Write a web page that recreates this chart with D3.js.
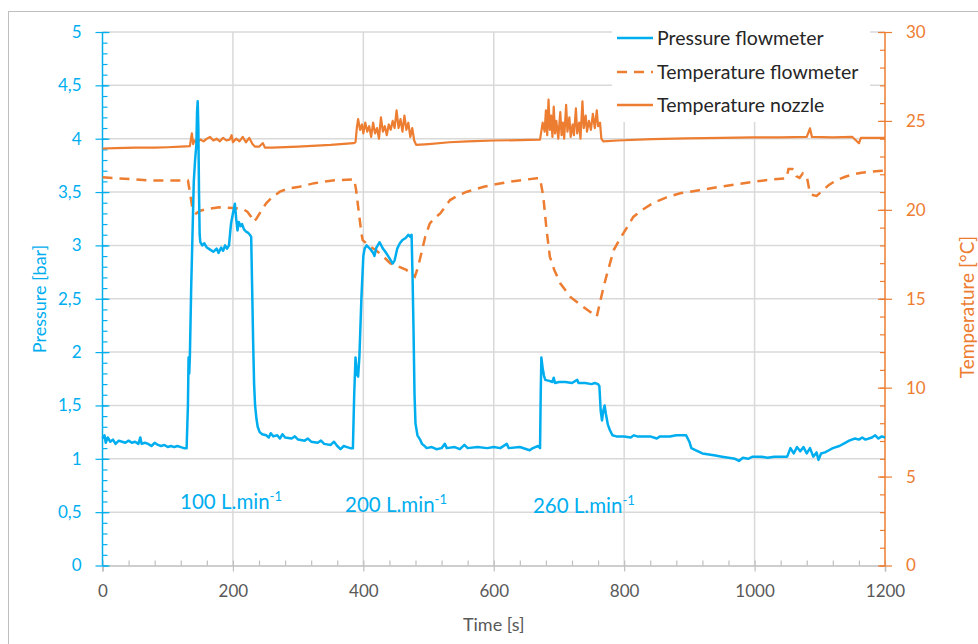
<!DOCTYPE html>
<html><head><meta charset="utf-8">
<script src="https://cdn.jsdelivr.net/npm/d3@7"></script>
<style>body{margin:0;background:#fff}svg{display:block;font-family:Lato,"Open Sans",sans-serif}</style>
</head><body><svg id="c" width="978" height="644"></svg>
<script>
const xTicks=[0,200,400,600,800,1000,1200];
const pTicks=[0,0.5,1,1.5,2,2.5,3,3.5,4,4.5,5];
const tTicks=[0,5,10,15,20,25,30];
const seriesNames=["Pressure flowmeter","Temperature flowmeter","Temperature nozzle"];
const flowLabels=[{t:119,txt:"100 L.min"},{t:372,txt:"200 L.min"},{t:660,txt:"260 L.min"}];

const pressure=[[0,1.19],[3,1.22],[5,1.15],[8,1.2],[12,1.16],[16,1.18],[20,1.14],[25,1.17],[30,1.16],[35,1.15],[40,1.17],[45,1.15],[50,1.16],[55,1.14],[58,1.2],[60,1.14],[65,1.15],[70,1.14],[75,1.12],[80,1.15],[85,1.13],[90,1.12],[95,1.13],[100,1.11],[105,1.12],[110,1.11],[115,1.12],[120,1.11],[125,1.1],[129,1.1],
[131,1.5],[132,1.95],[133,1.8],[134,1.96],[136,2.6],[138,3.1],[140,3.6],[142,3.8],[144,3.95],[145,4.25],[146,4.35],[147,4.1],[148,3.5],[149,3.1],[150,3.03],[153,3.0],[156,3.02],[160,2.98],[165,2.96],[170,2.94],[175,2.97],[178,2.93],[182,2.98],[185,2.95],[188,3.0],[191,2.97],[194,3.0],[197,3.2],[200,3.3],[203,3.39],[205,3.25],[207,3.14],[209,3.22],[212,3.18],[214,3.2],[217,3.15],[220,3.13],[223,3.12],[226,3.1],[228,3.08],[229.5,2.6],[231,2.1],[232.5,1.7],[234,1.5],[236,1.38],[238,1.3],[241,1.25],[245,1.23],[251,1.22],[255,1.2],[258,1.24],[262,1.21],[268,1.22],[272,1.19],[276,1.23],[280,1.2],[290,1.19],[295,1.21],[300,1.18],[310,1.17],[315,1.19],[320,1.16],[330,1.15],[335,1.17],[340,1.14],[350,1.13],[355,1.16],[360,1.12],[365,1.09],[370,1.12],[375,1.11],[380,1.1],[384,1.1],
[386,1.6],[388,1.95],[390,1.8],[392,1.77],[394,1.96],[397,2.5],[400,2.9],[402,2.97],[405,3.0],[410,2.97],[415,2.93],[417,2.9],[420,2.98],[425,3.03],[430,2.97],[435,2.93],[440,2.88],[445,2.83],[448,2.86],[452,2.97],[456,3.02],[460,3.05],[465,3.07],[469,3.1],[472,3.08],[474,3.1],[475.5,2.7],[477,2.2],[478.5,1.6],[480,1.33],[483,1.22],[487,1.18],[490,1.14],[494,1.12],[497,1.1],[505,1.11],[512,1.09],[520,1.1],[525,1.14],[528,1.1],[540,1.11],[548,1.09],[555,1.13],[560,1.1],[575,1.11],[590,1.1],[600,1.11],[610,1.1],[620,1.14],[623,1.1],[640,1.11],[655,1.08],[660,1.1],[668,1.12],[671,1.1],
[672,1.6],[673,1.95],[675,1.85],[677,1.78],[679,1.74],[685,1.73],[690,1.72],[692,1.76],[694,1.71],[700,1.72],[710,1.72],[720,1.71],[728,1.74],[730,1.71],[740,1.71],[750,1.7],[755,1.71],[760,1.7],[762,1.68],[764,1.45],[766,1.36],[768,1.45],[770,1.5],[772,1.42],[775,1.32],[778,1.27],[782,1.22],[788,1.21],[800,1.21],[810,1.2],[815,1.22],[820,1.21],[840,1.21],[850,1.19],[855,1.21],[870,1.21],[880,1.22],[895,1.22],[900,1.16],[903,1.1],[910,1.08],[920,1.05],[930,1.04],[940,1.03],[950,1.02],[960,1.01],[970,1.0],[976,0.98],[982,1.01],[990,1.0],[997,1.02],[1010,1.02],[1020,1.01],[1030,1.02],[1040,1.02],[1050,1.02],[1055,1.1],[1060,1.05],[1065,1.11],[1070,1.07],[1075,1.11],[1080,1.05],[1085,1.1],[1090,1.02],[1095,1.06],[1098,0.99],[1102,1.05],[1108,1.06],[1114,1.08],[1120,1.1],[1130,1.12],[1139,1.15],[1145,1.17],[1154,1.19],[1160,1.18],[1165,1.2],[1170,1.18],[1180,1.2],[1185,1.22],[1190,1.19],[1195,1.21],[1200,1.2]];

const tempFlow=[[0,21.83],[20,21.78],[46,21.72],[72,21.65],[100,21.65],[131,21.65],[133.5,21.1],[137.5,20.18],[140,19.9],[143.6,19.8],[150,19.95],[160,20.05],[179,20.14],[200,20.1],[215,20.05],[222,19.9],[228,19.6],[232,19.33],[236,19.5],[241,19.8],[251,20.37],[260,20.7],[272,21.02],[285,21.2],[302,21.3],[325,21.5],[353,21.65],[386,21.72],[389,21.1],[392,20.18],[394,19.6],[397,18.68],[399,18.3],[405,18.1],[410,17.93],[419,17.74],[430,17.4],[441,17.0],[452,16.85],[466,16.62],[479,16.24],[484,16.8],[489,17.56],[495,18.5],[502,19.24],[510,19.55],[518,19.8],[533,20.55],[545,20.8],[559,21.02],[585,21.3],[605,21.45],[625,21.58],[645,21.68],[666,21.77],[671,21.77],[676,20.74],[681,18.87],[686,17.37],[693,16.6],[702,15.87],[717,15.12],[737,14.55],[758,13.99],[763,14.8],[768,15.6],[773,16.3],[784,17.74],[794,18.4],[805,19.05],[814,19.6],[826,19.95],[845,20.4],[865,20.7],[886,20.93],[915,21.1],[947,21.3],[975,21.45],[998,21.58],[1025,21.7],[1049,21.77],[1052,22.3],[1058,22.3],[1061,22.2],[1064,21.9],[1069,21.8],[1074,22.05],[1080,21.9],[1084,21.1],[1087,20.85],[1095,20.78],[1105,21.1],[1114,21.4],[1125,21.65],[1139,21.86],[1150,21.98],[1164,22.09],[1180,22.15],[1195,22.2],[1200,22.2]];

const tempNozzle=[[0,23.45],[20,23.47],[50,23.5],[80,23.5],[100,23.52],[120,23.55],[134,23.58],[137,24.3],[139,23.7],[141,23.9],[145,23.8],[150,23.95],[155,23.85],[160,24.0],[165,24.1],[170,23.9],[175,24.0],[180,23.85],[185,24.05],[190,23.9],[195,23.95],[198,24.2],[200,23.8],[205,24.0],[210,23.85],[215,24.1],[220,23.8],[225,24.05],[230,23.7],[234,23.55],[240,23.55],[246,23.75],[249,23.5],[260,23.5],[300,23.55],[350,23.65],[385,23.75],
[388,23.8],[390,24.6],[392,25.1],[395,24.5],[398,24.8],[400,24.3],[403,24.9],[406,24.4],[409,24.7],[412,24.1],[415,24.9],[418,24.3],[421,24.6],[424,24.0],[427,25.2],[430,24.4],[433,24.7],[436,24.2],[439,24.8],[442,24.5],[445,25.0],[448,24.6],[451,25.6],[454,24.6],[457,25.1],[460,24.4],[463,25.3],[466,24.5],[469,24.9],[472,24.1],[475,24.6],[478,23.9],[481,23.65],[500,23.7],[532,23.8],[560,23.85],[600,23.9],[640,23.92],[671,23.95],
[675,24.9],[678,24.4],[680,25.6],[682,24.2],[684,26.2],[686,24.5],[688,25.3],[690,24.1],[692,25.8],[694,24.3],[696,25.0],[699,24.0],[702,25.5],[704,24.2],[706,24.9],[708,24.0],[711,25.9],[713,24.4],[716,25.2],[718,24.1],[721,24.8],[723,24.2],[726,25.7],[728,24.3],[731,24.9],[733,24.0],[736,26.1],[738,24.6],[741,25.3],[743,24.4],[746,25.0],[749,24.5],[752,25.4],[755,24.6],[758,25.6],[760,24.7],[763,24.9],[765,24.0],[768,23.85],[790,23.9],[843,23.98],[895,24.02],[950,24.05],[997,24.08],[1040,24.08],[1080,24.1],[1085,24.58],[1088,24.1],[1120,24.08],[1150,24.1],[1160,23.74],[1163,24.05],[1200,24.05]];

const BLUE="#00AEEF", ORANGE="#ED7D31", GRID="#d9d9d9", AXG="#bfbfbf";
const svg=d3.select("#c");
const X0=102.5,X1=885,Y0=565.5,Y1=32;
const x=d3.scaleLinear().domain([0,1200]).range([X0,X1]);
const yP=d3.scaleLinear().domain([0,5]).range([Y0,Y1]);
const yT=d3.scaleLinear().domain([0,30]).range([Y0,Y1]);
const fmt=v=>String(v).replace(".",",");

svg.append("rect").attr("x",8.5).attr("y",11.5).attr("width",1000).attr("height",700).attr("fill","none").attr("stroke","#bfbfbf");

svg.append("g").selectAll("line").data(pTicks.filter(d=>d>0)).join("line")
 .attr("x1",X0).attr("x2",X1).attr("y1",d=>yP(d)).attr("y2",d=>yP(d)).attr("stroke",GRID).attr("stroke-width",1.5);
svg.append("g").selectAll("line").data(xTicks.filter(d=>d>0&&d<1200)).join("line")
 .attr("x1",d=>x(d)).attr("x2",d=>x(d)).attr("y1",Y0).attr("y2",Y1).attr("stroke",GRID).attr("stroke-width",1.5);

const xa=svg.append("g").attr("transform",`translate(0,${Y0})`);
xa.call(d3.axisBottom(x).tickValues(d3.range(0,1201,40)).tickSize(-5).tickFormat(""));
xa.call(g=>g.select(".domain").remove());
xa.selectAll(".tick line").attr("stroke",AXG).attr("stroke-width",1.2);
const xa2=svg.append("g").attr("transform",`translate(0,${Y0})`);
xa2.call(d3.axisBottom(x).tickValues(xTicks).tickSize(6).tickPadding(13).tickFormat(d=>d));
xa2.select(".domain").attr("stroke",AXG).attr("stroke-width",1.5);
xa2.selectAll(".tick line").attr("stroke",AXG).attr("stroke-width",1.2);
xa2.selectAll(".tick text").attr("fill","#595959").attr("font-size",17).attr("font-family","Lato");

const la=svg.append("g").attr("transform",`translate(${X0},0)`);
la.call(d3.axisRight(yP).tickValues(d3.range(0,51).map(d=>d/10)).tickSize(5).tickFormat(""));
la.select(".domain").remove();
la.selectAll(".tick line").attr("stroke",BLUE).attr("stroke-width",1.2);
const la2=svg.append("g").attr("transform",`translate(${X0},0)`);
la2.call(d3.axisLeft(yP).tickValues(pTicks).tickSize(7).tickPadding(14).tickFormat(fmt));
la2.select(".domain").attr("d",`M0,${Y0}V${Y1}`).attr("stroke",BLUE).attr("stroke-width",1.5);
la2.selectAll(".tick line").attr("stroke",BLUE).attr("stroke-width",1.2).attr("x2",-7).attr("x1",7);
la2.selectAll(".tick text").attr("fill",BLUE).attr("font-size",17).attr("font-family","Lato");

const ra=svg.append("g").attr("transform",`translate(${X1},0)`);
ra.call(d3.axisLeft(yT).tickValues(d3.range(0,31)).tickSize(5).tickFormat(""));
ra.select(".domain").remove();
ra.selectAll(".tick line").attr("stroke",ORANGE).attr("stroke-width",1.2);
const ra2=svg.append("g").attr("transform",`translate(${X1},0)`);
ra2.call(d3.axisRight(yT).tickValues(tTicks).tickSize(7).tickPadding(14).tickFormat(d=>d));
ra2.select(".domain").attr("d",`M0,${Y0}V${Y1}`).attr("stroke",ORANGE).attr("stroke-width",1.5);
ra2.selectAll(".tick line").attr("stroke",ORANGE).attr("stroke-width",1.2).attr("x1",-7).attr("x2",7);
ra2.selectAll(".tick text").attr("fill",ORANGE).attr("font-size",17).attr("font-family","Lato");

svg.append("text").attr("x",x(600)).attr("y",631).attr("text-anchor","middle").attr("font-size",18).attr("fill","#595959").text("Time [s]");
svg.append("text").attr("transform",`translate(46,299) rotate(-90)`).attr("text-anchor","middle").attr("font-size",18).attr("fill",BLUE).text("Pressure [bar]");
svg.append("text").attr("transform",`translate(974,307) rotate(-90)`).attr("text-anchor","middle").attr("font-size",19).attr("fill",ORANGE).text("Temperature [°C]");

const lineP=d3.line().x(d=>x(d[0])).y(d=>yP(d[1]));
const lineT=d3.line().x(d=>x(d[0])).y(d=>yT(d[1]));
svg.append("path").datum(tempFlow).attr("d",lineT).attr("fill","none").attr("stroke",ORANGE).attr("stroke-width",2.5).attr("stroke-dasharray","10,7");
svg.append("path").datum(tempNozzle).attr("d",lineT).attr("fill","none").attr("stroke",ORANGE).attr("stroke-width",2.2).attr("stroke-linejoin","round");
svg.append("path").datum(pressure).attr("d",lineP).attr("fill","none").attr("stroke",BLUE).attr("stroke-width",2.5).attr("stroke-linejoin","round");

flowLabels.forEach((f,i)=>{
  const t=svg.append("text").attr("x",x(f.t)).attr("y",[509,512,513][i]).attr("font-size",20.5).attr("fill",BLUE);
  t.append("tspan").text(f.txt);
  t.append("tspan").attr("font-size",13).attr("dy",-8).text("-1");
});

const lg=svg.append("g");
lg.append("rect").attr("x",612).attr("y",20).attr("width",258).attr("height",102).attr("fill","#fff");
const ly=[38,72,105];
const styles=[{c:BLUE,d:null},{c:ORANGE,d:"10,7"},{c:ORANGE,d:null}];
seriesNames.forEach((n,i)=>{
  lg.append("line").attr("x1",617).attr("x2",653).attr("y1",ly[i]).attr("y2",ly[i]).attr("stroke",styles[i].c).attr("stroke-width",2.5).attr("stroke-dasharray",styles[i].d);
  lg.append("text").attr("x",657).attr("y",ly[i]+6.5).attr("font-size",19.5).attr("fill","#262626").text(n);
});
</script></body></html>
